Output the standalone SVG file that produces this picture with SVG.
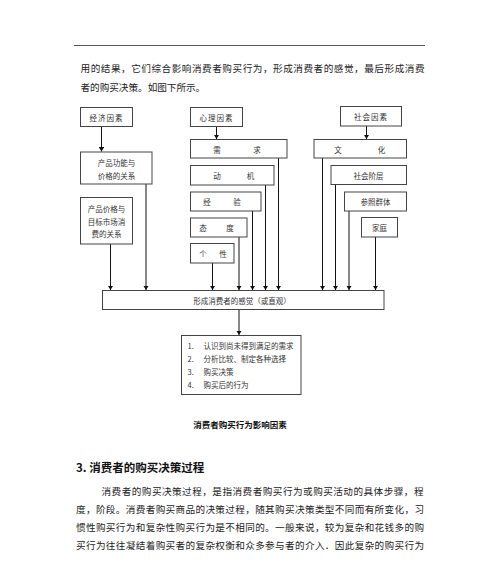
<svg xmlns="http://www.w3.org/2000/svg" width="500" height="565" viewBox="0 0 500 565">
<defs>
<marker id="ah" viewBox="0 0 8 10" refX="8" refY="5" markerWidth="4.5" markerHeight="5.5" orient="auto" markerUnits="userSpaceOnUse">
<path d="M0,0 L8,5 L0,10 z" fill="#111"/>
</marker>
<style>
.b{fill:#fff;stroke:#444;stroke-width:1}
.t{font-family:"Noto Sans CJK SC","Noto Sans CJK JP",sans-serif;font-size:7.5px;fill:#333;text-anchor:middle;dominant-baseline:central}
.l{font-family:"Noto Sans CJK SC","Noto Sans CJK JP",sans-serif;font-size:7.5px;fill:#333;dominant-baseline:central}
.p{font-family:"Noto Sans CJK SC","Noto Sans CJK JP",sans-serif;font-size:9.6px;fill:#222;dominant-baseline:central}
.c{stroke:#111;stroke-width:1;fill:none;marker-end:url(#ah)}
</style>
</defs>
<rect width="500" height="565" fill="#fff"/>
<line x1="74" y1="45.5" x2="425" y2="45.5" stroke="#555" stroke-width="1"/>
<text class="p" x="80.5" y="68" textLength="344" lengthAdjust="spacing">用的结果，它们综合影响消费者购买行为，形成消费者的感觉，最后形成消费</text>
<text class="p" x="80.5" y="86.5">者的购买决策。如图下所示。</text>

<g id="connectors">
<path class="c" d="M101.5,126 V151.5"/>
<path class="c" d="M216.5,126 V139"/>
<path class="c" d="M366.5,126 V139"/>
<path class="c" d="M110.5,244 V290"/>
<path class="c" d="M146,184 V290"/>
<path class="c" d="M212.5,263 V290"/>
<path class="c" d="M239,237 V290"/>
<path class="c" d="M252.5,211 V290"/>
<path class="c" d="M265.5,185 V290"/>
<path class="c" d="M278.5,158 V290"/>
<path class="c" d="M322.5,158 V290"/>
<path class="c" d="M335.5,184 V290"/>
<path class="c" d="M349,211 V290"/>
<path class="c" d="M375.5,237 V290"/>
<path class="c" d="M239,309.5 V335"/>
</g>

<g id="n-econ"><rect class="b" x="80.5" y="107.5" width="52" height="19"/><text class="t" x="106.5" y="117" letter-spacing="1">经济因素</text></g>
<g id="n-psy"><rect class="b" x="190.5" y="107.5" width="52" height="19"/><text class="t" x="216.5" y="117" letter-spacing="1">心理因素</text></g>
<g id="n-soc"><rect class="b" x="340.5" y="106.5" width="61" height="19.5"/><text class="t" x="371" y="116.5" letter-spacing="1">社会因素</text></g>

<g id="n-func"><rect class="b" x="80.5" y="152" width="71.5" height="32"/><text class="t" x="116.5" y="162.5">产品功能与</text><text class="t" x="116.5" y="175.5">价格的关系</text></g>
<g id="n-price"><rect class="b" x="80.5" y="197.5" width="52" height="46.5"/><text class="t" x="106.5" y="208.5">产品价格与</text><text class="t" x="106.5" y="221">目标市场消</text><text class="t" x="106.5" y="233.5">费的关系</text></g>

<g id="n-need"><rect class="b" x="190.5" y="139.5" width="96.5" height="18.5"/><text class="t" x="217" y="149">需</text><text class="t" x="257" y="149">求</text></g>
<g id="n-motive"><rect class="b" x="190.5" y="165.5" width="83.5" height="19.5"/><text class="t" x="217" y="175">动</text><text class="t" x="250.5" y="175">机</text></g>
<g id="n-exp"><rect class="b" x="190.5" y="192" width="70.5" height="19"/><text class="t" x="207" y="201.5">经</text><text class="t" x="237" y="201.5">验</text></g>
<g id="n-att"><rect class="b" x="190.5" y="218" width="56.5" height="19"/><text class="t" x="203" y="227.5">态</text><text class="t" x="230" y="227.5">度</text></g>
<g id="n-pers"><rect class="b" x="190.5" y="243.5" width="43.5" height="19.5"/><text class="t" x="203" y="253">个</text><text class="t" x="223" y="253">性</text></g>

<g id="n-culture"><rect class="b" x="314" y="139.5" width="92.5" height="18.5"/><text class="t" x="338" y="149">文</text><text class="t" x="381.5" y="149">化</text></g>
<g id="n-class"><rect class="b" x="331" y="165.5" width="75.5" height="19"/><text class="t" x="368.5" y="175">社会阶层</text></g>
<g id="n-ref"><rect class="b" x="344.5" y="192" width="62" height="19"/><text class="t" x="375.5" y="201.5">参照群体</text></g>
<g id="n-family"><rect class="b" x="361.5" y="217.5" width="36" height="19.5"/><text class="t" x="379.5" y="227.5">家庭</text></g>

<g id="n-perception"><rect class="b" x="102.5" y="290.5" width="281.5" height="19"/><text class="t" x="242" y="300">形成消费者的感觉（或直观）</text></g>

<g id="n-steps"><rect class="b" x="181.5" y="335.5" width="119.5" height="59"/>
<text class="l" x="187.5" y="345.5">1.</text><text class="l" x="203.5" y="345.5">认识到尚未得到满足的需求</text>
<text class="l" x="187.5" y="358">2.</text><text class="l" x="203.5" y="358">分析比较、制定各种选择</text>
<text class="l" x="187.5" y="371">3.</text><text class="l" x="203.5" y="371">购买决策</text>
<text class="l" x="187.5" y="384.5">4.</text><text class="l" x="203.5" y="384.5">购买后的行为</text>
</g>

<text x="240" y="424" font-family="'Noto Sans CJK SC',sans-serif" font-size="8.5" font-weight="bold" fill="#111" text-anchor="middle" dominant-baseline="central">消费者购买行为影响因素</text>

<text x="76" y="467" font-family="'Noto Sans CJK SC',sans-serif" font-size="11.5" font-weight="bold" fill="#111" dominant-baseline="central">3. 消费者的购买决策过程</text>

<text class="p" x="101.5" y="490.5" textLength="322" lengthAdjust="spacing">消费者的购买决策过程，是指消费者购买行为或购买活动的具体步骤，程</text>
<text class="p" x="76" y="508.5" textLength="348" lengthAdjust="spacing">度，阶段。消费者购买商品的决策过程，随其购买决策类型不同而有所变化，习</text>
<text class="p" x="76" y="526.5" textLength="348" lengthAdjust="spacing">惯性购买行为和复杂性购买行为是不相同的。一般来说，较为复杂和花钱多的购</text>
<text class="p" x="76" y="545" textLength="348" lengthAdjust="spacing">买行为往往凝结着购买者的复杂权衡和众多参与者的介入．因此复杂的购买行为</text>
</svg>
